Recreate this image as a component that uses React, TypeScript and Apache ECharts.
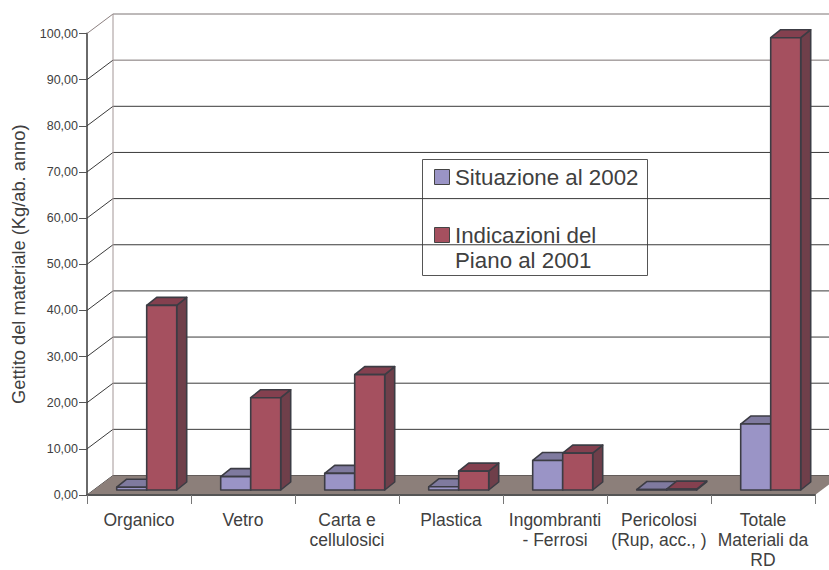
import React, { useEffect, useRef } from "react";
import * as echarts from "echarts";

const categories = [
  "Organico",
  "Vetro",
  "Carta e\ncellulosici",
  "Plastica",
  "Ingombranti\n- Ferrosi",
  "Pericolosi\n(Rup, acc., )",
  "Totale\nMateriali da\nRD",
];
const situazione2002 = [0.6, 2.9, 3.6, 0.7, 6.4, 0.1, 14.3];
const indicazioniPiano = [40, 20, 25, 4.1, 8, 0.2, 98];
const yTicks = [0, 10, 20, 30, 40, 50, 60, 70, 80, 90, 100];
const yTickLabels = ["0,00", "10,00", "20,00", "30,00", "40,00", "50,00", "60,00", "70,00", "80,00", "90,00", "100,00"];
const seriesNames = ["Situazione al 2002", "Indicazioni del\nPiano al 2001"];
const axisTitle = "Gettito del materiale (Kg/ab. anno)";

const FONT = '"Liberation Sans", Arial, sans-serif';
const TEXT = "#404040";
const EDGE = "#3c3c44";
const BAR_W = 30;
const BAR_SHIFT = 7.7;
const BAR_LIFT = 5;
const BAR_DX = 10;
const BAR_DY = 8;
const WALL_DX = 26;
const WALL_DY = 19.5;

const blue = { front: "#9a94c6", top: "#7f7a9f", side: "#5f5b80" };
const red = { front: "#a5505f", top: "#84404f", side: "#6f3f4a" };

const barRenderer = (which: number, c: { front: string; top: string; side: string }) => (_p: any, api: any) => {
  const cat = api.value(0);
  const v = api.value(1);
  const base = api.coord([cat, 0]);
  const top = api.coord([cat, v]);
  const x0 = base[0] + BAR_SHIFT + (which === 0 ? -BAR_W : 0);
  const x1 = x0 + BAR_W;
  const y0 = base[1] - BAR_LIFT;
  const y1 = top[1] - BAR_LIFT;
  const style = (fill: string) => ({ fill, stroke: EDGE, lineWidth: 1.6, lineJoin: "round" });
  return {
    type: "group",
    children: [
      { type: "polygon", shape: { points: [[x1, y0], [x1 + BAR_DX, y0 - BAR_DY], [x1 + BAR_DX, y1 - BAR_DY], [x1, y1]] }, style: style(c.side) },
      { type: "polygon", shape: { points: [[x0, y1], [x1, y1], [x1 + BAR_DX, y1 - BAR_DY], [x0 + BAR_DX, y1 - BAR_DY]] }, style: style(c.top) },
      { type: "rect", shape: { x: x0, y: y1, width: BAR_W, height: y0 - y1 }, style: style(c.front) },
    ],
  };
};

const wallRenderer = (p: any, api: any) => {
  const v = api.value(1);
  const y = api.coord([0, v])[1];
  const left = p.coordSys.x;
  const right = left + p.coordSys.width;
  const grey = v >= 90 ? "#7d7474" : "#3a3a3a";
  return {
    type: "group",
    children: [
      { type: "line", shape: { x1: left, y1: y, x2: left + WALL_DX, y2: y - WALL_DY }, style: { stroke: v === 100 ? "#8c8080" : "#3a3a3a", lineWidth: 1 } },
      { type: "line", shape: { x1: left + WALL_DX, y1: y - WALL_DY, x2: right + WALL_DX, y2: y - WALL_DY }, style: { stroke: grey, lineWidth: 1 } },
    ],
  };
};

const roomRenderer = (p: any, api: any) => {
  const bottom = api.coord([0, 0])[1];
  const topY = api.coord([0, 100])[1];
  const left = p.coordSys.x;
  const right = left + p.coordSys.width;
  return {
    type: "group",
    children: [
      { type: "line", shape: { x1: left + WALL_DX, y1: topY - WALL_DY, x2: left + WALL_DX, y2: bottom - WALL_DY }, style: { stroke: "#a39696", lineWidth: 1 } },
      {
        type: "polygon",
        shape: { points: [[left, bottom], [right, bottom], [right + WALL_DX, bottom - WALL_DY], [left + WALL_DX, bottom - WALL_DY]] },
        style: { fill: "#8c7f7a", stroke: "none" },
      },
    ],
  };
};

const legendTextStyle = { fontFamily: FONT, fontSize: 22.3, fill: TEXT };

export default function App() {
  const ref = useRef<HTMLDivElement>(null);
  useEffect(() => {
    const chart = echarts.init(ref.current!, undefined, { renderer: "svg" });
    chart.setOption({
      animation: false,
      backgroundColor: "#ffffff",
      grid: { left: 87, top: 33.5, width: 728, height: 461.5, containLabel: false, outerBoundsMode: "none" },
      xAxis: {
        type: "category",
        data: categories,
        boundaryGap: true,
        axisLine: { lineStyle: { color: "#555", width: 2 } },
        axisTick: { show: true, length: 9, alignWithLabel: false, lineStyle: { color: "#777", width: 1 } },
        axisLabel: { interval: 0, margin: 15, fontFamily: FONT, fontSize: 17.5, lineHeight: 20, color: TEXT },
        z: 5,
      },
      yAxis: {
        type: "value",
        min: 0,
        max: 100,
        interval: 10,
        name: axisTitle,
        nameLocation: "middle",
        nameRotate: 90,
        nameGap: 60,
        nameTextStyle: { fontFamily: FONT, fontSize: 18.3, color: TEXT },
        axisLine: { show: true, lineStyle: { color: "#6a6a6a", width: 2 } },
        axisTick: { show: true, length: 8, lineStyle: { color: "#555", width: 1 } },
        axisLabel: {
          margin: 9,
          fontFamily: FONT,
          fontSize: 12.5,
          color: TEXT,
          formatter: (v: number) => yTickLabels[yTicks.indexOf(v)],
        },
        splitLine: { show: false },
      },
      series: [
        { type: "custom", silent: true, data: yTicks.map((v) => [0, v]), renderItem: wallRenderer, z: 1 },
        { type: "custom", silent: true, data: [[0, 0]], renderItem: roomRenderer, z: 2 },
        {
          type: "custom",
          name: seriesNames[0],
          data: situazione2002.map((v, i) => [i, v]),
          renderItem: barRenderer(0, blue),
          itemStyle: { color: blue.front },
          z: 3,
        },
        {
          type: "custom",
          name: seriesNames[1],
          data: indicazioniPiano.map((v, i) => [i, v]),
          renderItem: barRenderer(1, red),
          itemStyle: { color: red.front },
          z: 4,
        },
      ],
      graphic: [
        {
          type: "group",
          z: 100,
          children: [
            { type: "rect", shape: { x: 422.5, y: 159.5, width: 225, height: 116 }, style: { fill: "#fff", stroke: "#555", lineWidth: 1 } },
            { type: "rect", shape: { x: 434.5, y: 169.5, width: 15, height: 15 }, style: { fill: blue.front, stroke: "#444", lineWidth: 1 } },
            { type: "rect", shape: { x: 434.5, y: 227.5, width: 15, height: 15 }, style: { fill: red.front, stroke: "#444", lineWidth: 1 } },
            { type: "text", x: 455, y: 177, style: { ...legendTextStyle, text: seriesNames[0], verticalAlign: "middle" } },
            { type: "text", x: 455, y: 235, style: { ...legendTextStyle, text: seriesNames[1].split("\n")[0], verticalAlign: "middle" } },
            { type: "text", x: 455, y: 260, style: { ...legendTextStyle, text: seriesNames[1].split("\n")[1], verticalAlign: "middle" } },
          ],
        },
      ],
    });
    return () => chart.dispose();
  }, []);
  return <div ref={ref} style={{ position: "absolute", left: 0, top: 0, width: 829, height: 570 }} />;
}
